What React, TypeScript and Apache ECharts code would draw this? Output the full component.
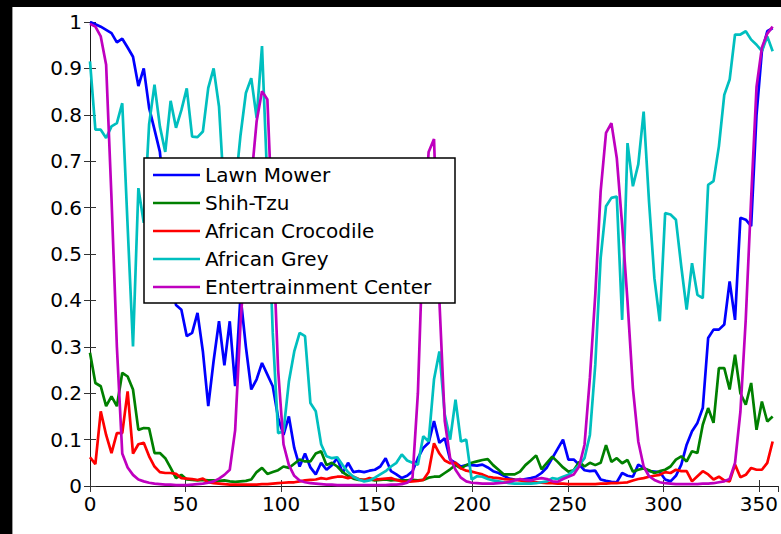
import React, { useEffect, useRef } from "react";
import * as echarts from "echarts";

// Classifier confidence for five ImageNet classes as the object is rotated
// through 360 degrees, sampled at 128 evenly spaced angles.
const SAMPLE_COUNT = 128;
const STEP = 360 / SAMPLE_COUNT;

const seriesNames = [
  "Lawn Mower",
  "Shih-Tzu",
  "African Crocodile",
  "African Grey",
  "Entertrainment Center",
];

const seriesColors = ["#0000ff", "#008000", "#ff0000", "#00bfbf", "#bf00bf"];

const xTicks = { min: 0, max: 360, interval: 50 };
const yTicks = { min: 0, max: 1, interval: 0.1 };

const lawnMower = [
  1.0, 0.995, 0.99, 0.983, 0.976, 0.956, 0.964, 0.945, 0.925, 0.862,
  0.9, 0.815, 0.768, 0.72, 0.6, 0.45, 0.39, 0.38, 0.323, 0.33,
  0.373, 0.29, 0.172, 0.27, 0.355, 0.26, 0.355, 0.215, 0.41, 0.3,
  0.208, 0.23, 0.265, 0.24, 0.215, 0.147, 0.11, 0.15, 0.082, 0.042,
  0.07, 0.04, 0.025, 0.05, 0.035, 0.045, 0.06, 0.028, 0.05, 0.03,
  0.032, 0.03, 0.033, 0.035, 0.042, 0.06, 0.032, 0.025, 0.017, 0.022,
  0.032, 0.06, 0.082, 0.093, 0.14, 0.093, 0.103, 0.057, 0.05, 0.042,
  0.045, 0.045, 0.044, 0.046, 0.04, 0.032, 0.028, 0.022, 0.016, 0.014,
  0.013, 0.015, 0.017, 0.02, 0.028, 0.04, 0.06, 0.08, 0.1, 0.057,
  0.057, 0.046, 0.034, 0.032, 0.033, 0.014, 0.011, 0.009, 0.008, 0.028,
  0.022, 0.02, 0.046, 0.039, 0.032, 0.031, 0.03, 0.014, 0.01, 0.022,
  0.046, 0.089, 0.118, 0.136, 0.168, 0.319, 0.337, 0.337, 0.348, 0.441,
  0.358, 0.578, 0.574, 0.56, 0.8, 0.937, 0.98, 0.987,
];

const shihTzu = [
  0.287, 0.222, 0.215, 0.172, 0.193, 0.172, 0.244, 0.236, 0.208, 0.121,
  0.125, 0.124, 0.071, 0.071, 0.06, 0.039, 0.017, 0.024, 0.014, 0.013,
  0.012, 0.013, 0.012, 0.012, 0.011, 0.012, 0.01, 0.009, 0.01, 0.011,
  0.014, 0.03, 0.039, 0.026, 0.03, 0.034, 0.042, 0.039, 0.048, 0.057,
  0.053, 0.053, 0.07, 0.075, 0.045, 0.05, 0.042, 0.03, 0.022, 0.016,
  0.013, 0.013, 0.014, 0.012, 0.013, 0.014, 0.012, 0.013, 0.012, 0.012,
  0.013, 0.012, 0.013, 0.018, 0.02, 0.02, 0.028, 0.036, 0.045, 0.038,
  0.045, 0.05, 0.053, 0.056, 0.058, 0.045, 0.035, 0.025, 0.025, 0.025,
  0.031, 0.045, 0.055, 0.066, 0.036, 0.05, 0.063, 0.052, 0.04, 0.031,
  0.034, 0.052, 0.042, 0.05, 0.045, 0.05, 0.088, 0.052, 0.06, 0.049,
  0.056, 0.031, 0.035, 0.038, 0.034, 0.028, 0.032, 0.035, 0.042, 0.057,
  0.064, 0.053, 0.075, 0.071, 0.132, 0.168, 0.136, 0.254, 0.254, 0.208,
  0.283, 0.2, 0.175, 0.222, 0.121, 0.182, 0.139, 0.15,
];

const africanCrocodile = [
  0.062, 0.047, 0.161, 0.11, 0.071, 0.114, 0.114, 0.204, 0.07, 0.09,
  0.093, 0.064, 0.042, 0.03, 0.028, 0.028, 0.026, 0.017, 0.016, 0.015,
  0.013, 0.016, 0.008, 0.006, 0.005, 0.004, 0.003, 0.003, 0.003, 0.003,
  0.003, 0.003, 0.004, 0.004, 0.005, 0.006, 0.007, 0.008, 0.008, 0.01,
  0.012, 0.013, 0.014, 0.017, 0.015, 0.018, 0.02, 0.02, 0.017, 0.02,
  0.015, 0.013, 0.017, 0.014, 0.015, 0.016, 0.017, 0.013, 0.01, 0.009,
  0.01, 0.011, 0.013, 0.03, 0.092, 0.07, 0.055, 0.049, 0.05, 0.038,
  0.033, 0.031, 0.028, 0.025, 0.02, 0.018, 0.017, 0.015, 0.014, 0.013,
  0.012, 0.01, 0.009, 0.008, 0.007, 0.006, 0.006, 0.005, 0.005, 0.004,
  0.004, 0.004, 0.004, 0.004, 0.004, 0.005, 0.005, 0.006, 0.006, 0.007,
  0.008, 0.012, 0.015, 0.017, 0.02, 0.022, 0.024, 0.03, 0.028, 0.035,
  0.032, 0.032, 0.01, 0.021, 0.032, 0.025, 0.014, 0.02, 0.012, 0.01,
  0.046, 0.019, 0.024, 0.039, 0.035, 0.035, 0.05, 0.096,
];

const africanGrey = [
  0.915, 0.768, 0.768, 0.75, 0.775, 0.782, 0.825, 0.56, 0.301, 0.642,
  0.567, 0.78, 0.865, 0.775, 0.72, 0.83, 0.772, 0.81, 0.857, 0.753,
  0.752, 0.764, 0.858, 0.9, 0.818, 0.62, 0.5, 0.64, 0.756, 0.847,
  0.879, 0.793, 0.948, 0.65, 0.33, 0.114, 0.118, 0.225, 0.29, 0.33,
  0.323, 0.179, 0.161, 0.09, 0.064, 0.06, 0.062, 0.045, 0.03, 0.02,
  0.014, 0.01, 0.012, 0.018, 0.025, 0.032, 0.042, 0.05, 0.068, 0.055,
  0.05, 0.046, 0.107, 0.096, 0.23, 0.29, 0.154, 0.1, 0.186, 0.096,
  0.1, 0.014, 0.021, 0.02, 0.015, 0.012, 0.01, 0.008, 0.006, 0.005,
  0.005, 0.005, 0.005, 0.006, 0.008, 0.01, 0.017, 0.015, 0.02, 0.024,
  0.034, 0.045, 0.06, 0.11, 0.261, 0.491, 0.603, 0.621, 0.624, 0.358,
  0.739, 0.646, 0.693, 0.807, 0.613, 0.448, 0.355, 0.588, 0.585, 0.574,
  0.473, 0.38, 0.48, 0.412, 0.405, 0.649, 0.657, 0.732, 0.843, 0.876,
  0.973, 0.973, 0.98, 0.962, 0.951, 0.937, 0.969, 0.937,
];

const entertainmentCenter = [
  0.996, 0.99, 0.969, 0.908, 0.62, 0.3, 0.07, 0.04, 0.024, 0.014,
  0.01, 0.007, 0.005, 0.004, 0.003, 0.003, 0.002, 0.002, 0.002, 0.003,
  0.004, 0.005, 0.007, 0.01, 0.016, 0.024, 0.035, 0.12, 0.35, 0.52,
  0.66, 0.786, 0.851, 0.833, 0.55, 0.25, 0.09, 0.045, 0.022, 0.012,
  0.008, 0.006, 0.005, 0.004, 0.003, 0.003, 0.002, 0.002, 0.002, 0.002,
  0.002, 0.002, 0.002, 0.002, 0.002, 0.002, 0.003, 0.003, 0.004, 0.007,
  0.018, 0.2, 0.55, 0.72, 0.748, 0.4, 0.14, 0.06, 0.035, 0.018,
  0.01, 0.007, 0.006, 0.005, 0.005, 0.005, 0.006, 0.007, 0.009, 0.012,
  0.015, 0.013, 0.012, 0.015, 0.017, 0.015, 0.01, 0.009, 0.015, 0.02,
  0.025, 0.042, 0.089, 0.233, 0.412, 0.635, 0.761, 0.782, 0.707, 0.563,
  0.398, 0.211, 0.096, 0.042, 0.021, 0.013, 0.008, 0.006, 0.005, 0.004,
  0.004, 0.004, 0.004, 0.004, 0.005, 0.005, 0.006, 0.008, 0.01, 0.015,
  0.05, 0.16, 0.36, 0.62, 0.86, 0.945, 0.975, 0.99,
];

const seriesValues = [
  lawnMower,
  shihTzu,
  africanCrocodile,
  africanGrey,
  entertainmentCenter,
];

const FONT = "DejaVu Sans";

export default function App() {
  const ref = useRef<HTMLDivElement>(null);

  useEffect(() => {
    if (!ref.current) return;
    const chart = echarts.init(ref.current, undefined, { renderer: "svg" });

    const axisLine = { show: true, lineStyle: { color: "#1a1a1a", width: 1 } };
    const axisTick = {
      show: true,
      inside: true,
      length: 6,
      lineStyle: { color: "#333", width: 1 },
    };
    const labelStyle = {
      color: "#000",
      fontSize: 20,
      fontFamily: FONT,
    };

    const series = seriesNames.map((name, k) => ({
      name,
      type: "line",
      symbol: "none",
      data: seriesValues[k].map((v, i) => [i * STEP, v]),
      lineStyle: { color: seriesColors[k], width: 2.7 },
      itemStyle: { color: seriesColors[k] },
      z: 2,
    }));

    chart.setOption({
      animation: false,
      backgroundColor: "#ffffff",
      grid: { left: 90, top: 22, right: 0, bottom: 48 },
      xAxis: [
        {
          type: "value",
          position: "bottom",
          ...xTicks,
          axisLine,
          axisTick,
          splitLine: { show: false },
          axisLabel: { ...labelStyle, margin: 8, showMaxLabel: false },
        },
        {
          type: "value",
          position: "top",
          ...xTicks,
          axisLine,
          axisTick,
          splitLine: { show: false },
          axisLabel: { show: false },
        },
      ],
      yAxis: [
        {
          type: "value",
          position: "left",
          ...yTicks,
          axisLine,
          axisTick,
          splitLine: { show: false },
          axisLabel: { ...labelStyle, margin: 8 },
        },
        {
          type: "value",
          position: "right",
          ...yTicks,
          axisLine: { show: false },
          axisTick,
          splitLine: { show: false },
          axisLabel: { show: false },
        },
      ],
      legend: {
        orient: "vertical",
        left: 153,
        top: 165,
        padding: 0,
        icon: "rect",
        itemWidth: 47,
        itemHeight: 2.5,
        itemGap: 8,
        data: seriesNames,
        textStyle: { ...labelStyle, lineHeight: 20 },
        z: 10,
      },
      graphic: [
        {
          type: "rect",
          z: 5,
          shape: { x: 144, y: 158, width: 311, height: 145 },
          style: { fill: "#ffffff", stroke: "#000000", lineWidth: 1.5 },
        },
        {
          type: "rect",
          z: 20,
          shape: { x: 0, y: 0, width: 781, height: 7 },
          style: { fill: "#000000" },
        },
        {
          type: "rect",
          z: 20,
          shape: { x: 0, y: 0, width: 12, height: 534 },
          style: { fill: "#000000" },
        },
        {
          type: "rect",
          z: 20,
          shape: { x: 12, y: 7, width: 1, height: 527 },
          style: { fill: "#9a9a9a" },
        },
      ],
      series,
    });

    return () => chart.dispose();
  }, []);

  return (
    <div
      ref={ref}
      style={{ position: "fixed", left: 0, top: 0, width: 781, height: 534 }}
    />
  );
}
